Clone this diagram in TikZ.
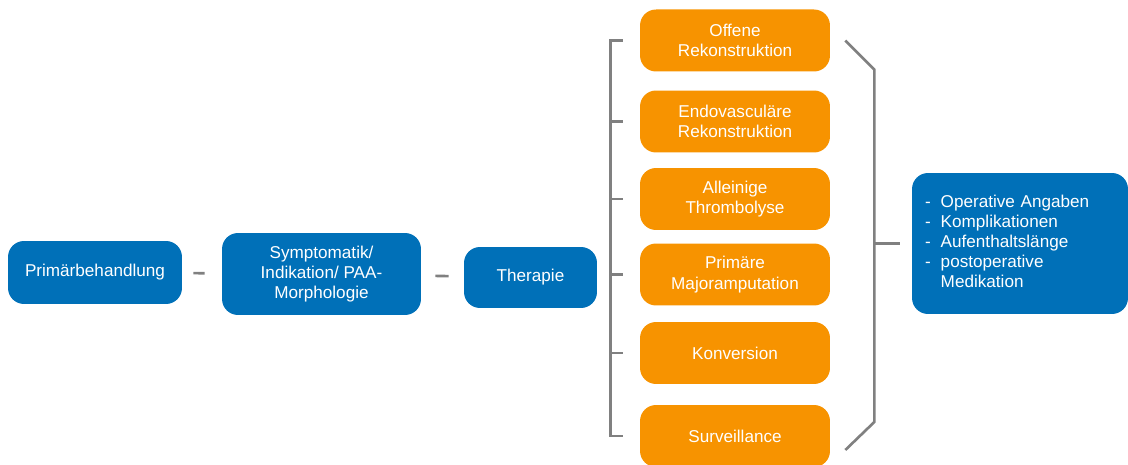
\documentclass[tikz,border=0pt]{standalone}
\usepackage{fontspec}
\setmainfont{Liberation Sans}
\definecolor{boxblue}{RGB}{0,112,184}
\definecolor{boxorange}{RGB}{247,147,0}
\definecolor{linegray}{RGB}{128,128,128}
\begin{document}
\begin{tikzpicture}[x=0.02cm,y=-0.02cm,
    box/.style={rounded corners=0.32cm, text=white, align=center, inner sep=0pt,
        font=\fontsize{9.75}{11.5}\selectfont},
    bluebox/.style={box, fill=boxblue},
    orangebox/.style={box, fill=boxorange, minimum width=3.8cm, minimum height=1.24cm},
    bar/.style={draw=linegray, line width=1.5pt}]
\useasboundingbox (0,0) rectangle (1128,465);

\node[bluebox, minimum width=3.48cm, minimum height=1.26cm] (prim) at (95,272.5) {Primärbehandlung};
\node[bluebox, minimum width=3.98cm, minimum height=1.64cm] (sympt) at (321.5,274) {Symptomatik/\\Indikation/ PAA-\\Morphologie};
\node[bluebox, minimum width=2.66cm, minimum height=1.22cm] (ther) at (530.5,277.5) {Therapie};

\node[orangebox] (offen) at (735,40.5) {Offene\\Rekonstruktion};
\node[orangebox] (endo) at (735,121.5) {Endovasculäre\\Rekonstruktion};
\node[orangebox] (lyse) at (735,199) {Alleinige\\Thrombolyse};
\node[orangebox] (amput) at (735,274.5) {Primäre\\Majoramputation};
\node[orangebox] (konv) at (735,353) {Konversion};
\node[orangebox] (surv) at (735,436) {Surveillance};

\node[bluebox, minimum width=4.32cm, minimum height=2.82cm, text width=3.8cm,
    inner xsep=0.26cm, align=left] (result) at (1020,243.5)
    {\begin{tabular}{@{}l@{\hspace{0.2cm}}l@{}}
    - & Operative Angaben\\
    - & Komplikationen\\
    - & Aufenthaltslänge\\
    - & postoperative\\
      & Medikation
    \end{tabular}};

\draw[bar, shorten <=0.22cm, shorten >=0.34cm] (prim) -- (sympt);
\draw[bar, shorten <=0.28cm, shorten >=0.3cm] (sympt) -- (ther);

% left bracket
\draw[bar] ([xshift=-0.34cm]offen.west) -- ++(-12,0) |- ([xshift=-0.34cm]surv.west);
\foreach \n in {endo,lyse,amput,konv}
    \draw[bar] ([xshift=-0.34cm]\n.west) -- ++(-12,0);

% right bracket
\draw[bar] ([xshift=0.3cm]offen.east) -- ++(29,29)
    -- ([xshift=0.88cm,yshift=0.28cm]surv.east) -- ++(-29,28);
\draw[bar] ([xshift=-0.24cm]result.west) -- ++(-26,0);

\end{tikzpicture}
\end{document}
